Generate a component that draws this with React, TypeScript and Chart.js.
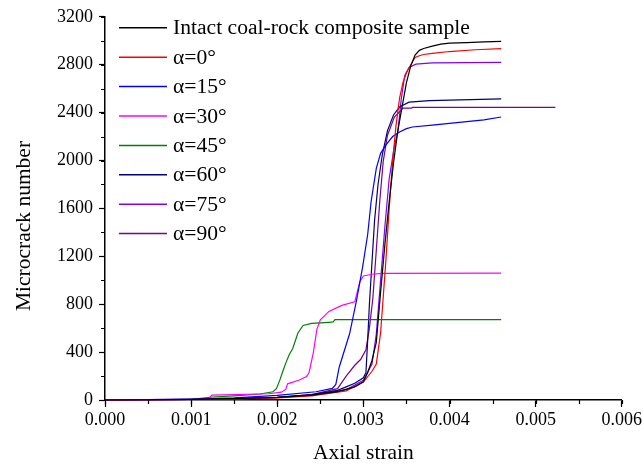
import React, { useEffect, useRef } from "react";
import { Chart, registerables } from "chart.js";

Chart.register(...registerables);

const seriesLabels = [
  "Intact coal-rock composite sample",
  "α=0°",
  "α=15°",
  "α=30°",
  "α=45°",
  "α=60°",
  "α=75°",
  "α=90°",
];
const seriesColors = ["#000000", "#ff0000", "#0000ff", "#ff00ff", "#008000", "#000080", "#8000ff", "#800080"];

const xAxisTitle = "Axial strain";
const yAxisTitle = "Microcrack number";

const intactStrain = [0, 0.0005, 0.001, 0.0015, 0.002, 0.0024, 0.0027, 0.0029, 0.003, 0.00305, 0.0031, 0.00315, 0.0032, 0.00325, 0.0033, 0.00335, 0.0034, 0.00346, 0.0035, 0.00355, 0.0036, 0.00365, 0.0037, 0.0038, 0.0039, 0.004, 0.0042, 0.0044, 0.0046];
const intactCount = [0, 2, 5, 12, 22, 41, 70, 110, 152, 230, 330, 480, 900, 1300, 1658, 1980, 2250, 2490, 2650, 2790, 2880, 2920, 2935, 2955, 2972, 2980, 2985, 2990, 2995];

const a0Strain = [0, 0.001, 0.0015, 0.002, 0.0024, 0.0028, 0.003, 0.0031, 0.00315, 0.0032, 0.00326, 0.0033, 0.00334, 0.00338, 0.00342, 0.00346, 0.0035, 0.00355, 0.0036, 0.00365, 0.0037, 0.0038, 0.004, 0.0043, 0.0046];
const a0Count = [0, 4, 10, 18, 35, 75, 150, 240, 300, 560, 1150, 1600, 2000, 2300, 2520, 2653, 2730, 2800, 2860, 2875, 2885, 2895, 2910, 2925, 2935];

const a15Strain = [0, 0.001, 0.0015, 0.002, 0.00245, 0.00264, 0.00268, 0.00272, 0.00284, 0.00292, 0.00299, 0.00305, 0.00309, 0.00315, 0.0032, 0.00326, 0.00334, 0.00342, 0.0035, 0.00357, 0.0038, 0.004, 0.0042, 0.0044, 0.0046];
const a15Count = [0, 8, 18, 38, 69, 97, 130, 276, 553, 829, 1105, 1382, 1658, 1934, 2060, 2128, 2200, 2238, 2266, 2280, 2295, 2310, 2325, 2340, 2363];

const a30Strain = [0, 0.0005, 0.0012, 0.00124, 0.0015, 0.0019, 0.00205, 0.0021, 0.00212, 0.00225, 0.00234, 0.00237, 0.00242, 0.00246, 0.0025, 0.0026, 0.00275, 0.0029, 0.00296, 0.003, 0.0031, 0.00322, 0.0046];
const a30Count = [0, 3, 8, 40, 45, 52, 65, 90, 135, 165, 195, 230, 400, 590, 670, 740, 790, 820, 990, 1036, 1050, 1058, 1060];

const a45Strain = [0, 0.0005, 0.001, 0.00125, 0.0015, 0.0018, 0.00195, 0.00199, 0.00203, 0.00207, 0.0021, 0.00214, 0.00218, 0.00224, 0.0023, 0.0024, 0.0026, 0.00265, 0.00267, 0.0046];
const a45Count = [0, 2, 6, 25, 35, 50, 69, 95, 166, 250, 310, 380, 430, 560, 622, 640, 649, 652, 671, 671];

const a60Strain = [0, 0.001, 0.0015, 0.002, 0.0024, 0.0027, 0.0028, 0.0029, 0.003, 0.00303, 0.00305, 0.00307, 0.0031, 0.00313, 0.00317, 0.00322, 0.00328, 0.00335, 0.00342, 0.00353, 0.00377, 0.0046];
const a60Count = [0, 4, 10, 22, 45, 80, 110, 140, 185, 230, 500, 800, 1150, 1500, 1800, 2050, 2250, 2380, 2446, 2487, 2500, 2514];

const a75Strain = [0, 0.001, 0.0015, 0.002, 0.0024, 0.0028, 0.003, 0.0031, 0.00315, 0.0032, 0.00325, 0.0033, 0.00336, 0.0034, 0.00344, 0.00348, 0.00353, 0.00361, 0.0038, 0.0046];
const a75Count = [0, 4, 10, 20, 40, 85, 165, 300, 550, 1000, 1450, 1850, 2120, 2238, 2514, 2708, 2777, 2805, 2815, 2819];

const a90Strain = [0, 0.001, 0.0015, 0.002, 0.0024, 0.0027, 0.0028, 0.0029, 0.00297, 0.00303, 0.00307, 0.00311, 0.00315, 0.00319, 0.00323, 0.00328, 0.00336, 0.00346, 0.00356, 0.00357, 0.0046, 0.00523];
const a90Count = [0, 4, 10, 22, 45, 95, 200, 290, 340, 420, 600, 850, 1250, 1658, 1990, 2211, 2363, 2437, 2437, 2443, 2443, 2443];

const seriesStrain = [intactStrain, a0Strain, a15Strain, a30Strain, a45Strain, a60Strain, a75Strain, a90Strain];
const seriesCount = [intactCount, a0Count, a15Count, a30Count, a45Count, a60Count, a75Count, a90Count];

const xMin = 0;
const xMax = 0.006;
const xStep = 0.001;
const xMinorStep = 0.0005;
const yMin = 0;
const yMax = 3200;
const yStep = 400;
const yMinorStep = 200;

const FONT = "'Liberation Serif', 'Times New Roman', serif";

const minorTicksPlugin = {
  id: "minorTicks",
  afterDraw(chart: any) {
    const { ctx, scales } = chart;
    const xs = scales.x;
    const ys = scales.y;
    ctx.save();
    ctx.strokeStyle = "#000";
    ctx.lineWidth = 1.2;
    ctx.beginPath();
    for (let v = xMin; v <= xMax + 1e-9; v += xMinorStep) {
      const px = Math.round(xs.getPixelForValue(v)) + 0.5;
      ctx.moveTo(px, ys.bottom);
      ctx.lineTo(px, ys.bottom + 4);
    }
    for (let v = yMin; v <= yMax + 1e-9; v += yMinorStep) {
      const py = Math.round(ys.getPixelForValue(v)) + 0.5;
      ctx.moveTo(xs.left, py);
      ctx.lineTo(xs.left - 4, py);
    }
    ctx.stroke();
    ctx.restore();
  },
};

const yTitlePlugin = {
  id: "yTitle",
  afterDraw(chart: any) {
    const { ctx } = chart;
    ctx.save();
    ctx.translate(24, 226);
    ctx.rotate(-Math.PI / 2);
    ctx.font = `21.5px ${FONT}`;
    ctx.fillStyle = "#000";
    ctx.textAlign = "center";
    ctx.textBaseline = "middle";
    ctx.fillText(yAxisTitle, 0, 0);
    ctx.restore();
  },
};

const insideLegendPlugin = {
  id: "insideLegend",
  afterDraw(chart: any) {
    const { ctx } = chart;
    const x0 = chart.chartArea.left + 14;
    const y0 = chart.chartArea.top + 11;
    const rowH = 29.4;
    ctx.save();
    ctx.font = `21.6px ${FONT}`;
    ctx.textBaseline = "middle";
    ctx.textAlign = "left";
    chart.data.datasets.forEach((ds: any, i: number) => {
      const y = y0 + i * rowH;
      ctx.strokeStyle = ds.borderColor;
      ctx.lineWidth = 1.5;
      ctx.beginPath();
      ctx.moveTo(x0, y);
      ctx.lineTo(x0 + 48, y);
      ctx.stroke();
      ctx.fillStyle = "#000";
      ctx.fillText(ds.label, x0 + 54, y + 1);
    });
    ctx.restore();
  },
};

export default function App() {
  const canvasRef = useRef<HTMLCanvasElement | null>(null);

  useEffect(() => {
    if (!canvasRef.current) return;
    const datasets = seriesLabels.map((label, i) => ({
      label,
      data: seriesStrain[i].map((s, j) => ({ x: s, y: seriesCount[i][j] })),
      borderColor: seriesColors[i],
      backgroundColor: seriesColors[i],
      borderWidth: 1.2,
      pointRadius: 0,
      tension: 0,
      fill: false,
      clip: false as any,
    }));
    const chart = new Chart(canvasRef.current, {
      type: "line",
      data: { datasets },
      options: {
        animation: false,
        responsive: true,
        maintainAspectRatio: false,
        layout: { padding: { left: 0, top: 14, right: 21, bottom: 0 } },
        plugins: {
          legend: { display: false },
          tooltip: { enabled: false },
        },
        scales: {
          x: {
            type: "linear",
            min: xMin,
            max: xMax,
            afterFit: (scale: any) => {
              scale.height = 65;
            },
            ticks: {
              stepSize: xStep,
              color: "#000",
              font: { family: FONT, size: 18 },
              padding: 2,
              maxRotation: 0,
              callback: (v: any) => Number(v).toFixed(3),
            },
            grid: {
              display: true,
              drawOnChartArea: false,
              drawTicks: true,
              tickLength: 7,
              tickColor: "#000",
              tickWidth: 1.2,
            },
            border: { display: true, color: "#000", width: 1.5 },
            title: {
              display: true,
              text: xAxisTitle,
              color: "#000",
              font: { family: FONT, size: 21.5 },
              padding: { top: 0, bottom: -1.5 },
            },
          },
          y: {
            type: "linear",
            min: yMin,
            max: yMax,
            afterFit: (scale: any) => {
              scale.width = 105;
            },
            ticks: {
              stepSize: yStep,
              color: "#000",
              font: { family: FONT, size: 18 },
              padding: 6,
              callback: (v: any) => String(v),
            },
            grid: {
              display: true,
              drawOnChartArea: false,
              drawTicks: true,
              tickLength: 6,
              tickColor: "#000",
              tickWidth: 1.2,
            },
            border: { display: true, color: "#000", width: 1.5 },
            title: { display: false },
          },
        },
      },
      plugins: [minorTicksPlugin, yTitlePlugin, insideLegendPlugin],
    });
    return () => chart.destroy();
  }, []);

  return (
    <div style={{ position: "fixed", left: 0, top: 0, width: 644, height: 465, background: "#fff" }}>
      <canvas ref={canvasRef} />
    </div>
  );
}
